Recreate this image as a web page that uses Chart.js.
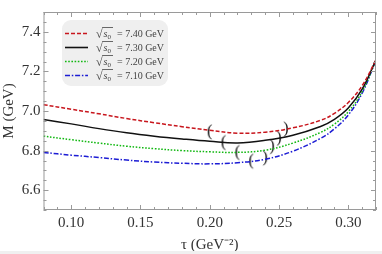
<!DOCTYPE html>
<html>
<head>
<meta charset="utf-8">
<script src="https://cdn.jsdelivr.net/npm/chart.js@4.4.1/dist/chart.umd.min.js"></script>
<style>
  html, body { margin: 0; padding: 0; background: #fff; }
  #wrap { width: 382px; height: 254px; }
</style>
</head>
<body>
<div id="wrap"><canvas id="myChart" width="382" height="254"></canvas></div>
<script>
// Borel parameter tau (GeV^-2)
const tau = [0.08, 0.10, 0.12, 0.14, 0.16, 0.18, 0.20, 0.22, 0.24, 0.26, 0.28, 0.29, 0.30, 0.31, 0.32];
// mass curves M (GeV) for each threshold
const m740 = [7.032, 7.009, 6.986, 6.962, 6.941, 6.921, 6.903, 6.888, 6.893, 6.915, 6.953, 6.988, 7.043, 7.128, 7.258];
const m730 = [6.957, 6.935, 6.911, 6.890, 6.873, 6.859, 6.847, 6.839, 6.852, 6.878, 6.922, 6.958, 7.015, 7.110, 7.258];
const m720 = [6.873, 6.855, 6.838, 6.822, 6.810, 6.800, 6.794, 6.791, 6.802, 6.838, 6.892, 6.934, 6.997, 7.098, 7.258];
const m710 = [6.791, 6.777, 6.765, 6.752, 6.742, 6.736, 6.733, 6.739, 6.756, 6.797, 6.862, 6.910, 6.980, 7.090, 7.258];
// Borel windows (tau, M) for the bracket marks
const winTau740 = [0.20, 0.255], winM740 = [6.894, 6.908];
const winTau730 = [0.21, 0.25], winM730 = [6.840, 6.862];
const winTau720 = [0.22, 0.245], winM720 = [6.790, 6.820];
const winTau710 = [0.23, 0.24], winM710 = [6.746, 6.762];

const seriesLabels = ["7.40", "7.30", "7.20", "7.10"];
const xTicks = [0.10, 0.15, 0.20, 0.25, 0.30];
const yTicks = [6.6, 6.8, 7.0, 7.2, 7.4];

const colors = ["#c8161d", "#111111", "#12b812", "#1c1cd4"];
const dashes = [[4, 2], [], [1.6, 1.6], [5, 1.8, 1.5, 1.8]];
const serif = "'Liberation Serif', 'Times New Roman', serif";

const toPts = (xs, ys) => xs.map((x, i) => ({ x: x, y: ys[i] }));

const bracket = ch => {
  const c = document.createElement("canvas");
  c.width = 8; c.height = 18;
  const g = c.getContext("2d");
  g.fillStyle = "#111";
  g.font = "16px " + serif;
  g.textAlign = "center";
  g.textBaseline = "middle";
  g.fillText(ch, 4, 9);
  return c;
};
const openB = bracket("(");
const closeB = bracket(")");

const curves = [m740, m730, m720, m710].map((m, i) => ({
  data: toPts(tau, m),
  borderColor: colors[i],
  borderWidth: 1.5,
  borderDash: dashes[i],
  pointRadius: 0,
  showLine: true,
  fill: false,
  tension: 0.4
}));
const wins = [[winTau740, winM740], [winTau730, winM730], [winTau720, winM720], [winTau710, winM710]].map(w => ({
  data: toPts(w[0], w[1]),
  showLine: false,
  pointStyle: ctx => (ctx.dataIndex === 0 ? openB : closeB),
  pointRadius: 5
}));

const frame = {
  id: "frame",
  afterDatasetsDraw(chart) {
    const { ctx, chartArea: a, scales } = chart;
    ctx.save();
    ctx.strokeStyle = "#9a9a9a";
    ctx.lineWidth = 1;
    ctx.strokeRect(a.left + 0.5, a.top + 0.5, a.right - a.left - 1, a.bottom - a.top - 1);
    ctx.beginPath();
    for (let v = 0.08; v <= 0.3201; v += 0.01) {
      const px = Math.round(scales.x.getPixelForValue(v)) + 0.5;
      const major = Math.abs(v * 20 - Math.round(v * 20)) < 1e-6;
      const len = major ? 5 : 3;
      ctx.moveTo(px, a.bottom); ctx.lineTo(px, a.bottom - len);
      ctx.moveTo(px, a.top); ctx.lineTo(px, a.top + len);
    }
    for (let v = 6.5; v <= 7.5001; v += 0.05) {
      const py = Math.round(scales.y.getPixelForValue(v)) + 0.5;
      const major = Math.abs(v * 5 - Math.round(v * 5)) < 1e-6;
      const len = major ? 5 : 3;
      ctx.moveTo(a.left, py); ctx.lineTo(a.left + len, py);
      ctx.moveTo(a.right, py); ctx.lineTo(a.right - len, py);
    }
    ctx.stroke();

    // legend box
    ctx.fillStyle = "#efefef";
    ctx.beginPath();
    ctx.roundRect(62, 20, 106, 66, 9);
    ctx.fill();
    const rows = [33, 47, 61, 75];
    rows.forEach((y, i) => {
      ctx.strokeStyle = colors[i];
      ctx.lineWidth = 1.6;
      ctx.setLineDash(dashes[i]);
      ctx.beginPath();
      ctx.moveTo(65, y + 0.5); ctx.lineTo(88, y + 0.5);
      ctx.stroke();
      ctx.setLineDash([]);
      ctx.fillStyle = "#444";
      ctx.textBaseline = "alphabetic";
      ctx.textAlign = "left";
      const base = y + 4;
      ctx.font = "12px " + serif;
      ctx.fillText("\u221A", 96, base + 1);
      const w = ctx.measureText("\u221A").width;
      ctx.font = "italic 10px " + serif;
      ctx.fillText("s", 96 + w + 1, base);
      const sw = ctx.measureText("s").width;
      ctx.font = "7px " + serif;
      ctx.fillText("0", 96 + w + 1 + sw, base + 2);
      ctx.strokeStyle = "#444";
      ctx.lineWidth = 0.8;
      ctx.beginPath();
      ctx.moveTo(96 + w - 0.5, base - 9.5);
      ctx.lineTo(113, base - 9.5);
      ctx.stroke();
      ctx.font = "10px " + serif;
      ctx.fillText("= " + seriesLabels[i] + " GeV", 117, base);
    });

    // light strip at the bottom edge
    ctx.fillStyle = "#f0f0f0";
    ctx.fillRect(0, 251, 382, 3);
    ctx.restore();
  }
};

const ctx = document.getElementById("myChart").getContext("2d");
const chart = new Chart(ctx, {
  type: "scatter",
  data: { datasets: curves.concat(wins) },
  options: {
    responsive: false,
    animation: false,
    layout: { padding: { top: 2, right: 1, left: 0, bottom: 0 } },
    plugins: { legend: { display: false }, tooltip: { enabled: false } },
    scales: {
      x: {
        type: "linear",
        min: 0.08,
        max: 0.32,
        afterBuildTicks: s => { s.ticks = xTicks.map(v => ({ value: v })); },
        afterFit: s => { s.height = 44; },
        grid: { display: false, drawTicks: false },
        border: { display: false },
        ticks: {
          padding: 4,
          maxRotation: 0,
          color: "#333",
          font: { family: serif, size: 15 },
          callback: v => Number(v).toFixed(2)
        },
        title: {
          display: true,
          text: "\u03C4 (GeV\u207B\u00B2)",
          color: "#333",
          font: { family: serif, size: 15 },
          padding: { top: 0, bottom: 0 }
        }
      },
      y: {
        type: "linear",
        min: 6.5,
        max: 7.5,
        afterBuildTicks: s => { s.ticks = yTicks.map(v => ({ value: v })); },
        afterFit: s => { s.width = 43.5; },
        grid: { display: false, drawTicks: false },
        border: { display: false },
        ticks: {
          padding: 3,
          color: "#333",
          font: { family: serif, size: 15 },
          callback: v => Number(v).toFixed(1)
        },
        title: {
          display: true,
          text: "M (GeV)",
          color: "#333",
          font: { family: serif, size: 15 },
          padding: { top: 0, bottom: 0 }
        }
      }
    }
  },
  plugins: [frame]
});
</script>
</body>
</html>
